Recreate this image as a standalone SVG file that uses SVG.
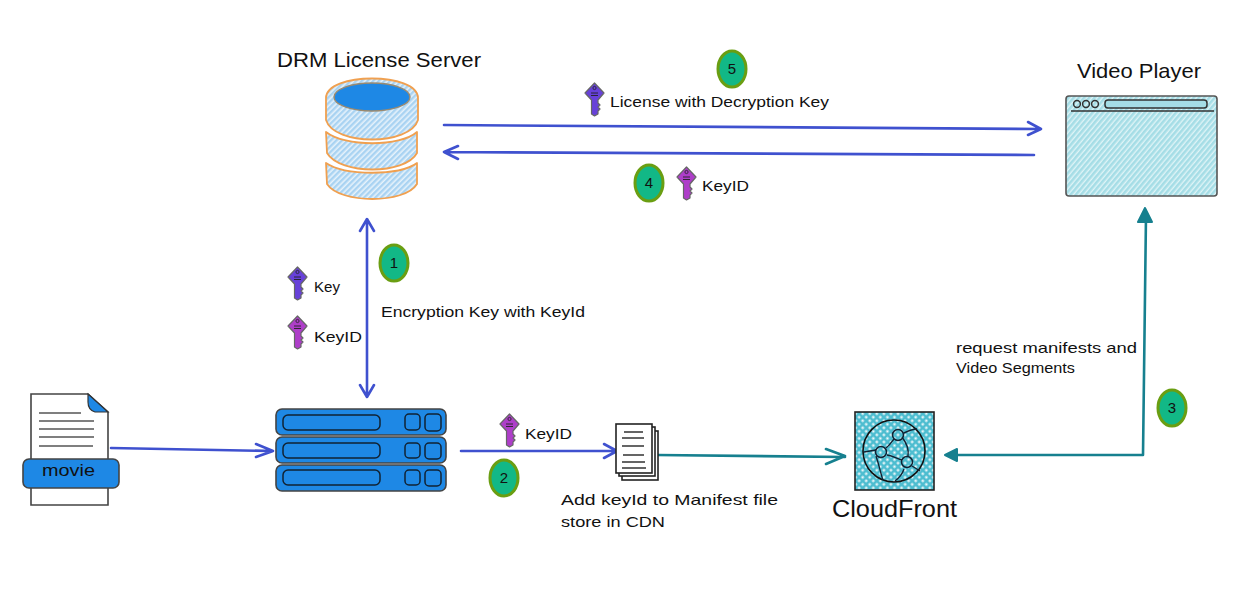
<svg xmlns="http://www.w3.org/2000/svg" xmlns:xlink="http://www.w3.org/1999/xlink" width="1238" height="610" viewBox="0 0 1238 610">
<style>
text{font-family:"Liberation Sans","DejaVu Sans",sans-serif;fill:#111;font-size:15px}
.t{font-size:21px}
.n{font-size:15px;text-anchor:middle}
.b{fill:#12b886;stroke:#6a9e12;stroke-width:3}
.blue{fill:none;stroke:#3f51cf;stroke-width:2.6;stroke-linecap:round;stroke-linejoin:round}
.teal{fill:none;stroke:#16808f;stroke-width:2.6;stroke-linecap:round;stroke-linejoin:round}
.fill{fill:#1e88e5;stroke:#444;stroke-width:1.6}
.in{fill:none;stroke:#123;stroke-width:1.5}
.db{fill:url(#hb);stroke:#f0a050;stroke-width:1.8;stroke-linejoin:round}
.ln{stroke:#555;stroke-width:1.6;fill:none}
.ink{fill:none;stroke:#333;stroke-width:1.5}
</style>
<defs>
<pattern id="hb" width="4" height="4" patternUnits="userSpaceOnUse" patternTransform="rotate(-45)"><rect width="4" height="4" fill="#e6f2fb"/><rect width="4" height="2.4" fill="#a9d3f2"/></pattern>
<pattern id="hc" width="4" height="4" patternUnits="userSpaceOnUse" patternTransform="rotate(-50)"><rect width="4" height="4" fill="#dff4f7"/><rect width="4" height="2.6" fill="#a5dde6"/></pattern>
<pattern id="xh" width="5" height="5" patternUnits="userSpaceOnUse" patternTransform="rotate(45)"><rect width="5" height="5" fill="#4dbdd0"/><rect x="1.4" y="1.4" width="2.2" height="2.2" fill="#fff"/></pattern>
<g id="key">
<path d="M9.5 0L19 10 13 17V20L15 22 13 24 15 26 13 28 13 31 9.5 33 6.5 31V17L0 10Z" stroke="#666" stroke-width="1.2" stroke-linejoin="round"/>
<circle cx="9.5" cy="5" r="1.6" fill="none" stroke="#222" stroke-width=".8"/>
<path d="M6 10H13M6 12.5H13" stroke="#222" stroke-width=".9"/>
</g>
</defs>

<g id="connectors">
<path class="blue" d="M444 125L1041 129M1028 122L1041 129 1028 135"/>
<path class="blue" d="M1034 155L444 152M458 146L444 152 458 159"/>
<path class="blue" d="M367 220V396M360 231L367 219 374 231M360 385L367 397 374 385"/>
<path class="blue" d="M111 448L273 451M256 444L273 451 256 457"/>
<path class="blue" d="M461 451H617M604 444L617 451 604 458"/>
<path class="teal" d="M657 455L845 457M826 449L845 456 826 464"/>
<path class="teal" d="M950 455H1143L1146 215"/>
<path d="M945 455L957 449V461Z M1145 208L1138 222H1152Z" fill="#16808f" stroke="#16808f" stroke-width="2" stroke-linejoin="round"/>
</g>

<g id="drm-server">
<path class="db" d="M326 132C345 147 400 147 417 132L417 153C405 175 340 175 327 153Z"/>
<path class="db" d="M326 163C345 176 400 176 417 163L417 184C405 204 340 204 327 184Z"/>
<path class="db" d="M326 98C326 72 418 72 418 98V120C410 146 334 146 326 120Z"/>
<ellipse cx="372" cy="97" rx="38" ry="14" fill="#1e88e5" stroke="#9a8a70" stroke-width="1.4"/>
<text class="t" x="277" y="67" textLength="204" lengthAdjust="spacingAndGlyphs">DRM License Server</text>
</g>

<g id="video-player">
<rect x="1066" y="96" width="151" height="100" rx="3" fill="url(#hc)" stroke="#555" stroke-width="1.6"/>
<path class="ink" d="M1071 111H1214"/>
<circle class="ink" cx="1077" cy="104" r="3.4"/><circle class="ink" cx="1086" cy="104" r="3.4"/><circle class="ink" cx="1095" cy="104" r="3.4"/>
<rect class="ink" x="1105" y="100" width="102" height="8" rx="3" style="fill:#a5dde6"/>
<text class="t" x="1077" y="78" textLength="124" lengthAdjust="spacingAndGlyphs">Video Player</text>
</g>

<g id="movie">
<path d="M31 394H88L108 412V505H31Z" fill="#fff" stroke="#444" stroke-width="1.6"/>
<path d="M88 394L108 412H95Q88 410 88 402Z" fill="#1e88e5" stroke="#333" stroke-width="1.2"/>
<path class="ln" d="M39 413H81M39 421H94M39 429H94M39 437H94M39 446H93"/>
<rect class="fill" x="23" y="459" width="96" height="29" rx="6"/>
<text x="42" y="476" textLength="53" lengthAdjust="spacingAndGlyphs" style="font-size:17px">movie</text>
</g>

<g id="encoder">
<rect class="fill" x="276" y="409" width="170" height="26" rx="6"/>
<rect class="fill" x="276" y="437" width="170" height="26" rx="6"/>
<rect class="fill" x="276" y="465" width="170" height="26" rx="6"/>
<rect class="in" x="283" y="415" width="97" height="15" rx="5"/><rect class="in" x="405" y="414" width="15" height="16" rx="4"/><rect class="in" x="425" y="414" width="16" height="17" rx="4"/>
<rect class="in" x="283" y="443" width="97" height="15" rx="5"/><rect class="in" x="405" y="443" width="15" height="15" rx="4"/><rect class="in" x="425" y="443" width="16" height="16" rx="4"/>
<rect class="in" x="283" y="470" width="97" height="15" rx="5"/><rect class="in" x="405" y="470" width="15" height="15" rx="4"/><rect class="in" x="425" y="470" width="16" height="16" rx="4"/>
</g>

<g id="manifest">
<rect x="622" y="431" width="36" height="49" fill="#fff" stroke="#222" stroke-width="1.6"/>
<rect x="619" y="427" width="36" height="49" fill="#fff" stroke="#222" stroke-width="1.6"/>
<rect x="616" y="424" width="36" height="49" fill="#fff" stroke="#222" stroke-width="1.6"/>
<path class="ln" d="M624 432H643M622 438H644M622 446H644M623 455H644M622 462H645M622 468H646" style="stroke:#333"/>
</g>

<g id="cloudfront">
<rect x="855" y="412" width="79" height="78" fill="url(#xh)" stroke="#222" stroke-width="1.6"/>
<circle cx="894" cy="451" r="31" fill="none" stroke="#111" stroke-width="1.6"/>
<path d="M864 452L876 450M886 448C891 444 892 441 894 439M904 433C908 431 912 429 917 429M876 456C880 468 881 475 883 480M887 455C893 456 898 459 902 460M902 437C908 445 909 450 908 456M904 469C902 475 899 478 895 481M912 466L920 471" fill="none" stroke="#123" stroke-width="1.4"/>
<circle cx="898" cy="435" r="5.5" fill="none" stroke="#123" stroke-width="1.5"/>
<circle cx="881" cy="452" r="5.5" fill="none" stroke="#123" stroke-width="1.5"/>
<circle cx="907" cy="462" r="5.5" fill="none" stroke="#123" stroke-width="1.5"/>
<text class="t" x="832" y="517" textLength="125" lengthAdjust="spacingAndGlyphs" style="font-size:24px">CloudFront</text>
</g>

<g id="badge-1"><ellipse class="b" cx="394" cy="263" rx="14" ry="18"/><text class="n" x="394" y="268">1</text></g>
<g id="badge-2"><ellipse class="b" cx="504" cy="478" rx="14" ry="18"/><text class="n" x="504" y="483">2</text></g>
<g id="badge-3"><ellipse class="b" cx="1172" cy="408" rx="14" ry="18"/><text class="n" x="1172" y="413">3</text></g>
<g id="badge-4"><ellipse class="b" cx="649" cy="183" rx="14" ry="18"/><text class="n" x="649" y="188">4</text></g>
<g id="badge-5"><ellipse class="b" cx="732" cy="69" rx="14" ry="18"/><text class="n" x="732" y="74">5</text></g>

<g id="key-1"><use xlink:href="#key" href="#key" x="288" y="267" fill="#6741d9"/><text x="314" y="292" textLength="26" lengthAdjust="spacingAndGlyphs">Key</text></g>
<g id="key-2"><use xlink:href="#key" href="#key" x="288" y="316" fill="#ae3ec9"/><text x="314" y="342" textLength="48" lengthAdjust="spacingAndGlyphs">KeyID</text></g>
<g id="key-3"><use xlink:href="#key" href="#key" x="585" y="83" fill="#6741d9"/><text x="610" y="107" textLength="219" lengthAdjust="spacingAndGlyphs">License with Decryption Key</text></g>
<g id="key-4"><use xlink:href="#key" href="#key" x="677" y="167" fill="#ae3ec9"/><text x="702" y="191" textLength="47" lengthAdjust="spacingAndGlyphs">KeyID</text></g>
<g id="key-5"><use xlink:href="#key" href="#key" x="500" y="414" fill="#ae3ec9"/><text x="525" y="439" textLength="47" lengthAdjust="spacingAndGlyphs">KeyID</text></g>

<g id="labels">
<text x="381" y="317" textLength="204" lengthAdjust="spacingAndGlyphs">Encryption Key with KeyId</text>
<text x="561" y="505" textLength="217" lengthAdjust="spacingAndGlyphs">Add keyId to Manifest file</text>
<text x="561" y="527" textLength="104" lengthAdjust="spacingAndGlyphs">store in CDN</text>
<text x="956" y="353" textLength="181" lengthAdjust="spacingAndGlyphs">request manifests and</text>
<text x="956" y="373" textLength="119" lengthAdjust="spacingAndGlyphs">Video Segments</text>
</g>
</svg>
